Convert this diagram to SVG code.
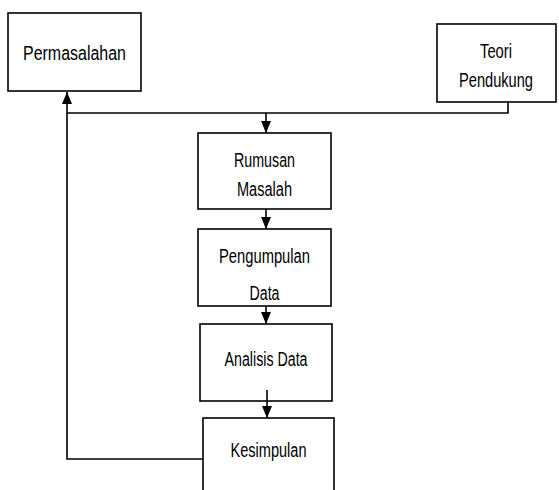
<svg xmlns="http://www.w3.org/2000/svg" width="559" height="490" viewBox="0 0 559 490">
<style>
.box{fill:#fff;stroke:#000;stroke-width:1.6}
.ln{fill:none;stroke:#000;stroke-width:1.6}
text{font-family:"Liberation Sans",Arial,sans-serif;font-size:20px;fill:#000;text-anchor:middle}
</style>
<defs>
<marker id="ah" viewBox="0 0 12 10" refX="12" refY="5" markerWidth="12" markerHeight="10" markerUnits="userSpaceOnUse" orient="auto">
<path d="M0,0 L12,5 L0,10 Z" fill="#000"/>
</marker>
</defs>
<g id="permasalahan">
<rect class="box" x="8" y="13" width="133" height="78"/>
<text x="74.5" y="60" textLength="103" lengthAdjust="spacingAndGlyphs">Permasalahan</text>
</g>
<g id="teori">
<rect class="box" x="437" y="24" width="119" height="78"/>
<text x="496" y="58" textLength="32" lengthAdjust="spacingAndGlyphs">Teori</text>
<text x="496" y="87" textLength="74" lengthAdjust="spacingAndGlyphs">Pendukung</text>
</g>
<g id="rumusan">
<rect class="box" x="198" y="133" width="133" height="76"/>
<text x="264.5" y="167" textLength="61" lengthAdjust="spacingAndGlyphs">Rumusan</text>
<text x="264.5" y="196" textLength="55" lengthAdjust="spacingAndGlyphs">Masalah</text>
</g>
<g id="pengumpulan">
<rect class="box" x="198" y="229" width="133" height="77"/>
<text x="264.5" y="263" textLength="91" lengthAdjust="spacingAndGlyphs">Pengumpulan</text>
<text x="264.5" y="300" textLength="30" lengthAdjust="spacingAndGlyphs">Data</text>
</g>
<g id="analisis">
<rect class="box" x="200" y="324" width="132" height="77"/>
<text x="266" y="366" textLength="83" lengthAdjust="spacingAndGlyphs">Analisis Data</text>
</g>
<g id="kesimpulan">
<rect class="box" x="203" y="418" width="131" height="80"/>
<text x="268.5" y="457" textLength="76" lengthAdjust="spacingAndGlyphs">Kesimpulan</text>
</g>
<g id="connectors">
<path class="ln" d="M508,102 V113 H67"/>
<path class="ln" d="M67,113 V92" marker-end="url(#ah)"/>
<path class="ln" d="M266,113 V133" marker-end="url(#ah)"/>
<path class="ln" d="M266,209 V229" marker-end="url(#ah)"/>
<path class="ln" d="M266,306 V324" marker-end="url(#ah)"/>
<path class="ln" d="M267,390 V418" marker-end="url(#ah)"/>
<path class="ln" d="M203,459 H67 V113"/>
</g>
</svg>
